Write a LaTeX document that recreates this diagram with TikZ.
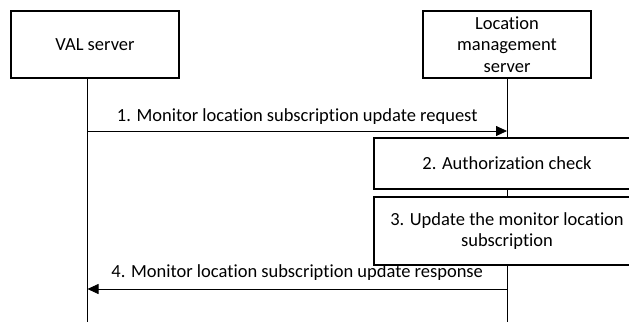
\documentclass[tikz,border=0pt]{standalone}
\usepackage{fontspec}
\setmainfont{Carlito}[Ligatures=NoCommon]
\usetikzlibrary{arrows.meta, positioning}

\begin{document}
\begin{tikzpicture}[x=1pt, y=-1pt, font=\fontsize{18.5}{21.5}\selectfont,
            entity/.style={draw, rectangle, line width=1.1pt, minimum width=168pt, minimum height=67pt, align=center, inner sep=0pt},
            action/.style={draw, rectangle, line width=1.1pt, fill=white, minimum width=266pt, align=center, inner sep=0pt},
            lifeline/.style={line width=0.9pt},
            msg/.style={-{Triangle[length=11pt, width=10pt]}, line width=0.8pt}]

            \clip (0,0) rectangle (629,322);
            \useasboundingbox (0,0) rectangle (629,322);

            \node[entity] (val) at (95,44.5) {VAL server};
            \node[entity, right of=val, node distance=412pt] (lms) {Location\\management\\server};

            % lifelines
            \coordinate (valend) at (87.5,322);
            \coordinate (lmsend) at (lms.south |- valend);
            \draw[lifeline] (val.south -| valend) -- (valend);
            \draw[lifeline] (lms.south) -- (lmsend);

            \node[action, minimum height=51pt] (auth) at (507,163.5) {2. Authorization check};
            \node[action, minimum height=68pt] (update) at (507,231) {3. Update the monitor location\\subscription};

            % messages
            \coordinate (req1) at (87.5,131);
            \coordinate (req2) at (req1 -| lms);
            \coordinate (resp1) at (87.5,289);
            \coordinate (resp2) at (resp1 -| lms);
            \draw[msg] (req1) -- node[above=6pt, inner sep=0pt] {1. Monitor location subscription update request} (req2);
            \draw[msg] (resp2) -- node[above=8pt, inner sep=0pt] {4. Monitor location subscription update response} (resp1);
        \end{tikzpicture}
\end{document}
